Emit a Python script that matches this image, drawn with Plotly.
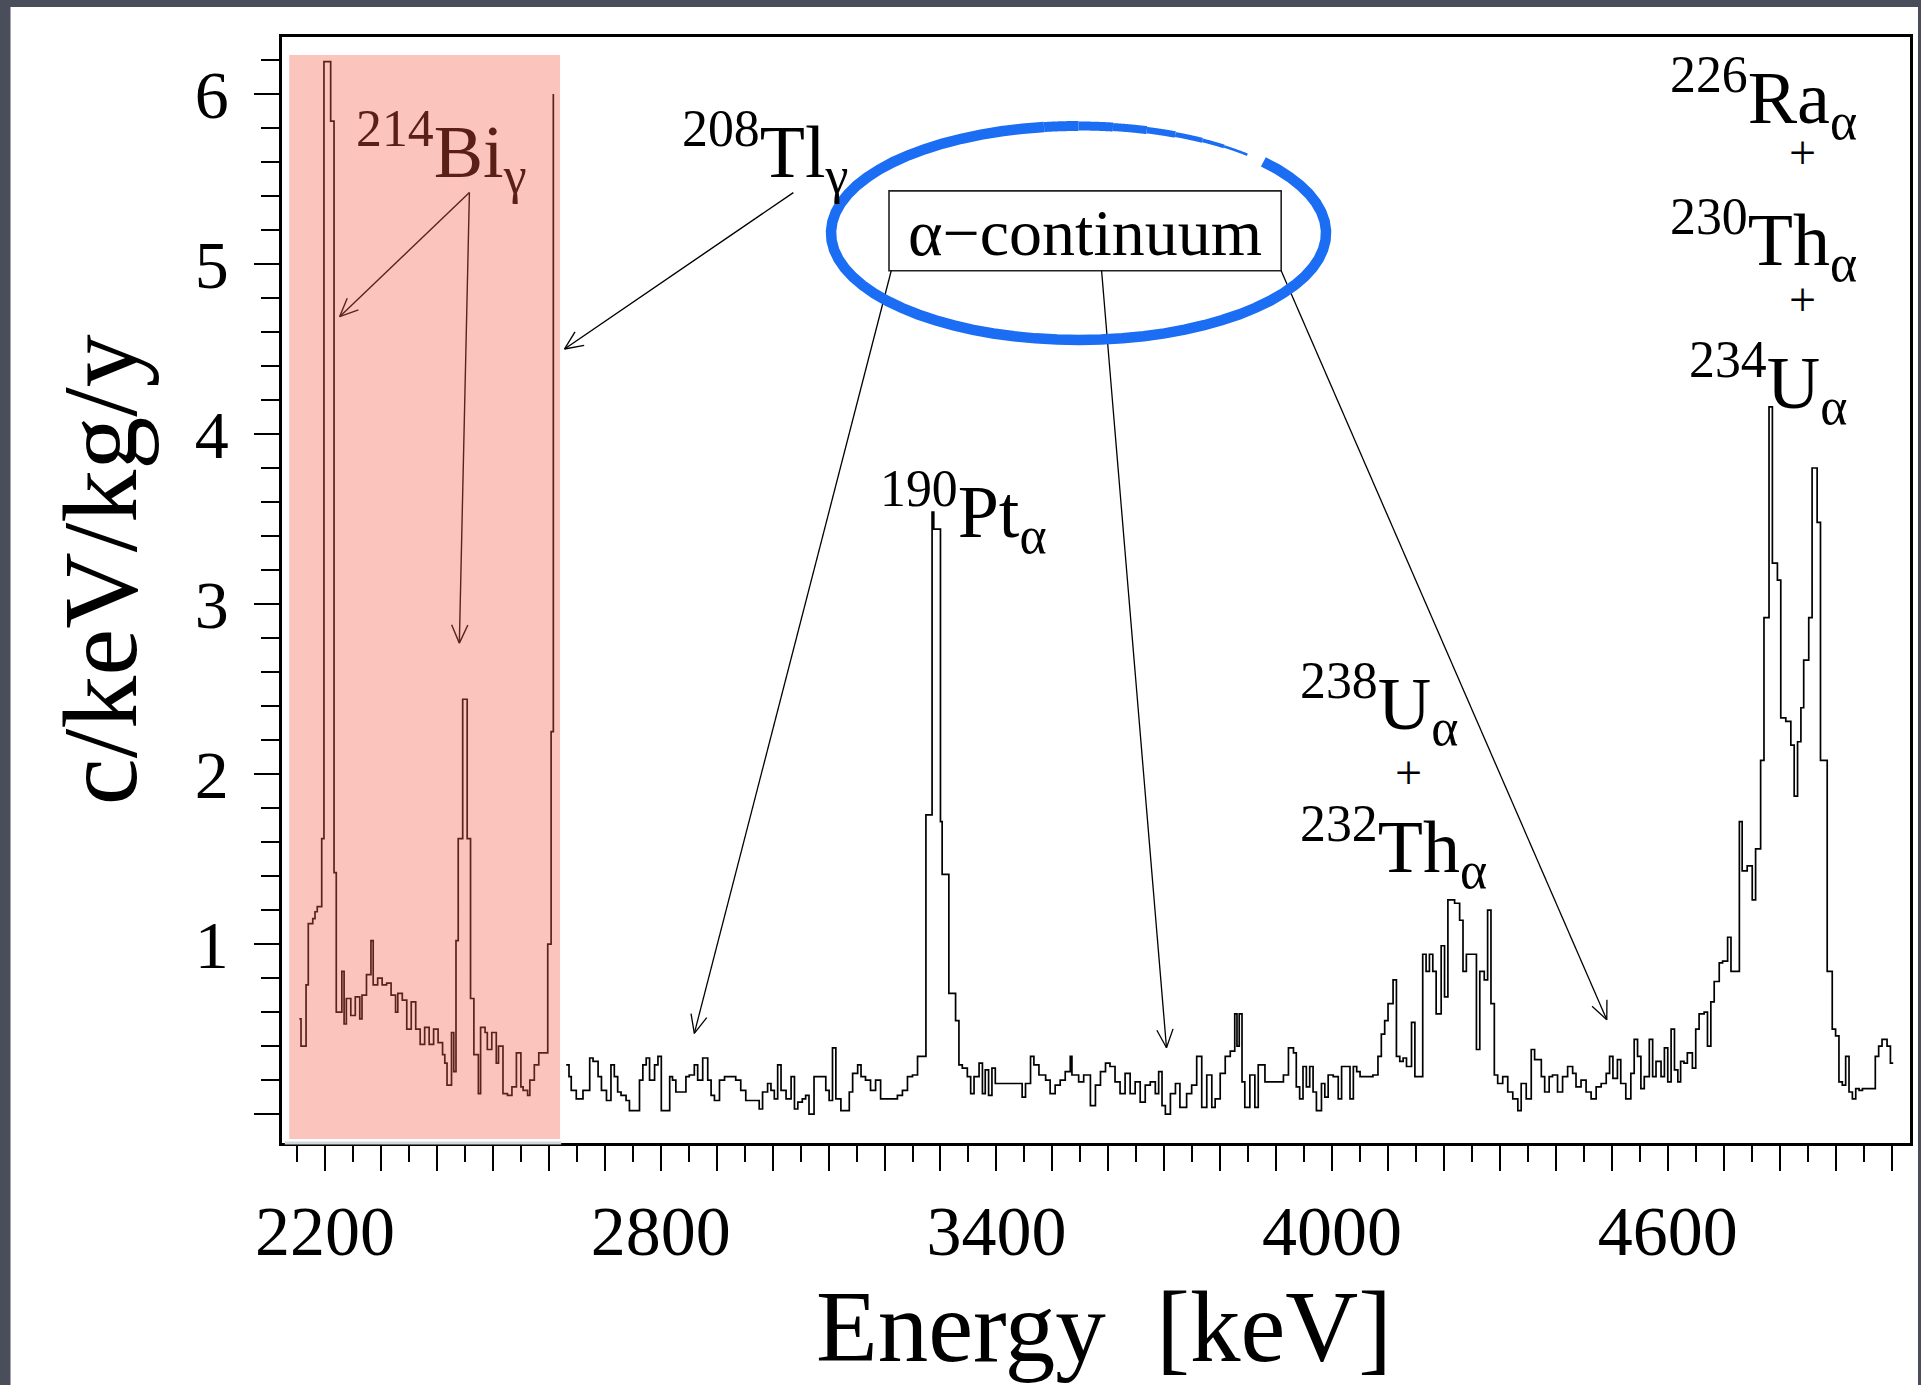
import math
import plotly.graph_objects as go

# ---------------------------------------------------------------------------
# Measured spectrum, drawn as a step histogram.
# Each pair is (left edge of the step in keV, rate in c/keV/kg/y).
# ---------------------------------------------------------------------------
gamma_steps = [
    (2154, 0.56), (2157, 0.40), (2166, 0.76), (2170, 1.12), (2178, 1.15),
    (2182, 1.19), (2186, 1.22), (2194, 1.62), (2198, 6.19), (2210, 5.84),
    (2216, 1.42), (2220, 0.60), (2230, 0.84), (2234, 0.53), (2238, 0.68),
    (2246, 0.58), (2254, 0.69), (2262, 0.56), (2266, 0.70), (2274, 0.82),
    (2282, 1.02), (2286, 0.76), (2294, 0.80), (2302, 0.76), (2310, 0.77),
    (2318, 0.70), (2326, 0.60), (2330, 0.71), (2338, 0.67), (2346, 0.50),
    (2354, 0.66), (2362, 0.50), (2370, 0.41), (2378, 0.51), (2386, 0.41),
    (2394, 0.50), (2402, 0.42), (2410, 0.35), (2414, 0.30), (2418, 0.17),
    (2426, 0.48), (2430, 0.25), (2434, 1.02), (2438, 1.62), (2446, 2.44),
    (2454, 1.62), (2460, 0.68), (2466, 0.35), (2474, 0.12), (2478, 0.51),
    (2486, 0.48), (2490, 0.38), (2498, 0.48), (2506, 0.30), (2510, 0.40),
    (2518, 0.12), (2526, 0.11), (2534, 0.16), (2542, 0.36), (2550, 0.16),
    (2554, 0.14), (2562, 0.11), (2566, 0.20), (2574, 0.29), (2582, 0.36),
    (2590, 0.36), (2598, 1.00), (2604, 2.25), (2608, 6.00),
]

alpha_steps = [
    (2631, 0.29), (2636, 0.22), (2640, 0.14), (2649, 0.09), (2661, 0.14),
    (2673, 0.33), (2679, 0.31), (2688, 0.22), (2694, 0.14), (2703, 0.08),
    (2711, 0.29), (2717, 0.22), (2723, 0.13), (2729, 0.11), (2738, 0.08),
    (2744, 0.02), (2762, 0.20), (2768, 0.29), (2774, 0.33), (2780, 0.20),
    (2789, 0.29), (2795, 0.34), (2801, 0.02), (2816, 0.22), (2821, 0.20),
    (2827, 0.13), (2845, 0.22), (2851, 0.23), (2860, 0.29), (2866, 0.20),
    (2875, 0.33), (2884, 0.20), (2890, 0.11), (2896, 0.08), (2905, 0.20),
    (2914, 0.22), (2934, 0.20), (2943, 0.14), (2952, 0.08), (2976, 0.03),
    (2982, 0.13), (2991, 0.18), (2997, 0.14), (3003, 0.09), (3009, 0.29),
    (3015, 0.14), (3024, 0.09), (3033, 0.22), (3039, 0.03), (3045, 0.07),
    (3053, 0.09), (3059, 0.11), (3065, 0.00), (3074, 0.22), (3095, 0.14),
    (3101, 0.08), (3107, 0.39), (3113, 0.09), (3122, 0.02), (3137, 0.13),
    (3143, 0.24), (3152, 0.29), (3158, 0.22), (3166, 0.20), (3175, 0.14),
    (3184, 0.20), (3193, 0.09), (3223, 0.11), (3232, 0.14), (3241, 0.22),
    (3250, 0.23), (3259, 0.34), (3274, 1.76), (3285, 3.54), (3288, 3.44),
    (3300, 1.72), (3303, 1.41), (3315, 0.71), (3327, 0.55), (3333, 0.29),
    (3339, 0.27), (3348, 0.22), (3354, 0.12), (3360, 0.22), (3369, 0.30),
    (3375, 0.12), (3380, 0.26), (3386, 0.11), (3392, 0.27), (3398, 0.18),
    (3446, 0.10), (3452, 0.18), (3461, 0.34), (3467, 0.29), (3476, 0.23),
    (3488, 0.20), (3496, 0.12), (3505, 0.17), (3514, 0.20), (3523, 0.25),
    (3532, 0.34), (3535, 0.23), (3547, 0.19), (3556, 0.23), (3568, 0.05),
    (3577, 0.17), (3586, 0.25), (3595, 0.30), (3603, 0.28), (3612, 0.19),
    (3621, 0.12), (3630, 0.24), (3639, 0.12), (3648, 0.19), (3657, 0.07),
    (3666, 0.17), (3675, 0.19), (3684, 0.12), (3690, 0.25), (3696, 0.05),
    (3702, 0.00), (3711, 0.12), (3720, 0.18), (3728, 0.04), (3740, 0.12),
    (3749, 0.17), (3758, 0.34), (3767, 0.04), (3776, 0.23), (3785, 0.04),
    (3791, 0.09), (3800, 0.24), (3809, 0.34), (3818, 0.37), (3826, 0.59),
    (3830, 0.40), (3834, 0.59), (3839, 0.19), (3844, 0.04), (3853, 0.23),
    (3862, 0.04), (3868, 0.29), (3880, 0.19), (3913, 0.23), (3922, 0.39),
    (3931, 0.36), (3936, 0.16), (3942, 0.09), (3948, 0.28), (3954, 0.16),
    (3960, 0.28), (3966, 0.13), (3972, 0.02), (3981, 0.18), (3987, 0.10),
    (3993, 0.23), (4002, 0.22), (4011, 0.09), (4017, 0.28), (4032, 0.09),
    (4038, 0.28), (4044, 0.25), (4050, 0.22), (4073, 0.23), (4082, 0.34),
    (4088, 0.47), (4094, 0.55), (4100, 0.65), (4109, 0.79), (4115, 0.34),
    (4121, 0.31), (4127, 0.33), (4133, 0.28), (4142, 0.54), (4148, 0.22),
    (4162, 0.94), (4168, 0.84), (4174, 0.94), (4180, 0.84), (4186, 0.59),
    (4195, 0.99), (4201, 0.69), (4207, 1.26), (4219, 1.24), (4228, 1.14),
    (4234, 0.84), (4240, 0.94), (4258, 0.38), (4264, 0.84), (4272, 0.79),
    (4278, 1.20), (4284, 0.65), (4290, 0.23), (4296, 0.18), (4305, 0.22),
    (4314, 0.13), (4323, 0.09), (4332, 0.02), (4338, 0.18), (4347, 0.09),
    (4356, 0.38), (4362, 0.32), (4374, 0.22), (4380, 0.13), (4388, 0.22),
    (4394, 0.23), (4403, 0.13), (4412, 0.22), (4421, 0.28), (4430, 0.24),
    (4436, 0.16), (4445, 0.20), (4454, 0.13), (4463, 0.09), (4472, 0.16),
    (4481, 0.18), (4490, 0.24), (4496, 0.34), (4502, 0.21), (4510, 0.32),
    (4516, 0.18), (4525, 0.09), (4534, 0.24), (4540, 0.44), (4546, 0.34),
    (4552, 0.15), (4558, 0.22), (4567, 0.44), (4573, 0.22), (4579, 0.31),
    (4588, 0.22), (4594, 0.39), (4600, 0.19), (4606, 0.50), (4612, 0.26),
    (4618, 0.19), (4623, 0.31), (4629, 0.30), (4635, 0.36), (4644, 0.27),
    (4650, 0.50), (4656, 0.59), (4665, 0.60), (4671, 0.40), (4677, 0.66),
    (4683, 0.78), (4692, 0.89), (4698, 0.90), (4707, 1.04), (4713, 0.84),
    (4728, 1.72), (4733, 1.43), (4742, 1.46), (4751, 1.26), (4757, 1.56),
    (4766, 2.08), (4772, 2.92), (4781, 4.16), (4787, 3.24), (4796, 3.14),
    (4802, 2.33), (4811, 2.31), (4820, 2.17), (4826, 1.87), (4832, 2.19),
    (4838, 2.39), (4843, 2.67), (4852, 2.92), (4858, 3.80), (4867, 3.48),
    (4873, 2.08), (4885, 0.84), (4894, 0.50), (4900, 0.46), (4906, 0.19),
    (4912, 0.17), (4918, 0.34), (4924, 0.13), (4930, 0.09), (4936, 0.15),
    (4942, 0.14), (4948, 0.15), (4971, 0.34), (4977, 0.40), (4983, 0.44),
    (4992, 0.40), (4998, 0.30),
]
spectrum_end_keV = 5003

x_tick_labels = [2200, 2800, 3400, 4000, 4600]
y_tick_labels = [1, 2, 3, 4, 5, 6]

x_range = [2123, 5033]
y_range = [-0.17, 6.335]

# ---------------------------------------------------------------------------
# Page geometry (pixels)
# ---------------------------------------------------------------------------
W, H = 1921, 1385
ML, MR, MT, MB = 282, 8, 37, 242
PW, PH = W - ML - MR, H - MT - MB

SERIF = "Liberation Serif"
MAROON = "#5a2018"
BLUE = "#1b6ef3"
LABEL_SIZE = 74
PLUS_SIZE = 48


def d2px(x, y):
    px = ML + (x - x_range[0]) / (x_range[1] - x_range[0]) * PW
    py = MT + (y_range[1] - y) / (y_range[1] - y_range[0]) * PH
    return px, py


def px2paper(px, py):
    return (px - ML) / PW, (MT + PH - py) / PH


# ---------------------------------------------------------------------------
# Spectrum trace
# ---------------------------------------------------------------------------
xs = [e for e, _ in gamma_steps] + [None] + [e for e, _ in alpha_steps] + [spectrum_end_keV]
ys = [v for _, v in gamma_steps] + [None] + [v for _, v in alpha_steps] + [alpha_steps[-1][1]]

fig = go.Figure()
fig.add_trace(go.Scatter(
    x=xs, y=ys, mode="lines",
    line=dict(color="black", width=1.7, shape="hv"),
    connectgaps=False, hoverinfo="skip", showlegend=False,
))

shapes = []

# white slide panel
x0, y0 = px2paper(10, H)
x1, y1 = px2paper(W, 7)
shapes.append(dict(type="rect", xref="paper", yref="paper", x0=x0, x1=x1, y0=y0, y1=y1,
                   fillcolor="white", line=dict(width=0), layer="below"))


def arrow(tail, head, color="black", width=1.4, head_len=20, half_angle=24):
    tx, ty = d2px(*tail)
    hx, hy = d2px(*head)
    out = []
    a, b = px2paper(tx, ty)
    c, d = px2paper(hx, hy)
    out.append(dict(type="line", xref="paper", yref="paper", x0=a, y0=b, x1=c, y1=d,
                    line=dict(color=color, width=width), layer="above"))
    ang = math.atan2(ty - hy, tx - hx)
    for s in (1, -1):
        t = ang + s * math.radians(half_angle)
        ex, ey = hx + head_len * math.cos(t), hy + head_len * math.sin(t)
        e, f = px2paper(ex, ey)
        out.append(dict(type="line", xref="paper", yref="paper", x0=c, y0=d, x1=e, y1=f,
                        line=dict(color=color, width=width), layer="above"))
    return out


# 214Bi arrows (tinted by the shaded gamma region drawn over them)
bi_tail = (2458, 5.42)
shapes += arrow(bi_tail, (2226, 4.69))
shapes += arrow(bi_tail, (2440, 2.77))

# shaded gamma region
shapes.append(dict(type="rect", xref="x", yref="paper", x0=2136, x1=2620,
                   y0=px2paper(0, 1139)[1], y1=px2paper(0, 55)[1],
                   fillcolor="rgb(243,95,74)", opacity=0.37, line=dict(width=0), layer="above"))
# faded frame line below the shaded block
shapes.append(dict(type="line", xref="x", yref="paper", x0=2128, x1=2622, y0=0, y1=0,
                   line=dict(color="#d6d6d6", width=3), layer="above"))

# 208Tl arrow
shapes += arrow((3037, 5.42), (2628, 4.50))

# alpha-continuum box and its arrows
box_x = (3208, 3909)
box_y = (4.96, 5.43)
shapes.append(dict(type="rect", xref="x", yref="y", x0=box_x[0], x1=box_x[1], y0=box_y[0], y1=box_y[1],
                   fillcolor="white", line=dict(color="#222222", width=1.6), layer="above"))
shapes += arrow((box_x[0] + 4, box_y[0]), (2860, 0.475), width=1.3)
shapes += arrow((3588, box_y[0]), (3704, 0.39), width=1.3)
shapes += arrow((box_x[1], box_y[0]), (4491, 0.555), width=1.3)

# hand-drawn highlight ellipse around the continuum box
cx, cy, rx, ry = 1080, 233, 248, 107


def ellipse_path(t_start, t_end, n=60):
    pts = []
    for i in range(n + 1):
        t = math.radians(t_start + (t_end - t_start) * i / n)
        px, py = cx + rx * math.cos(t), cy - ry * math.sin(t)
        pts.append(px2paper(px, py))
    return "M " + " L ".join(f"{a:.5f},{b:.5f}" for a, b in pts)


# stroke runs clockwise from the right, thinning out at its end near the top
segments = [(41.7, -262, 10.5)]
taper = [(-262, -270, 10), (-270, -278, 9), (-278, -286, 8), (-286, -293, 6.5),
         (-293, -300, 5), (-300, -306, 3.8), (-306, -313, 2.6)]
segments += taper
for (ts, te, w) in segments:
    shapes.append(dict(type="path", xref="paper", yref="paper", path=ellipse_path(ts, te),
                       line=dict(color=BLUE, width=w), layer="above"))

# ---------------------------------------------------------------------------
# Text labels (pixel anchor positions)
# ---------------------------------------------------------------------------
labels = [
    ("<sup>214</sup>Bi<sub>γ</sub>", 355, 152, "left", MAROON, LABEL_SIZE),
    ("<sup>208</sup>Tl<sub>γ</sub>", 682, 152, "left", "black", LABEL_SIZE),
    ("<sup>190</sup>Pt<sub>α</sub>", 880, 512, "left", "black", LABEL_SIZE),
    ("<sup>238</sup>U<sub>α</sub>", 1301, 704, "left", "black", LABEL_SIZE),
    ("+", 1411, 772, "center", "black", PLUS_SIZE),
    ("<sup>232</sup>Th<sub>α</sub>", 1301, 847, "left", "black", LABEL_SIZE),
    ("<sup>226</sup>Ra<sub>α</sub>", 1672, 98, "left", "black", LABEL_SIZE),
    ("+", 1805, 152, "center", "black", PLUS_SIZE),
    ("<sup>230</sup>Th<sub>α</sub>", 1672, 240, "left", "black", LABEL_SIZE),
    ("+", 1805, 299, "center", "black", PLUS_SIZE),
    ("<sup>234</sup>U<sub>α</sub>", 1691, 383, "left", "black", LABEL_SIZE),
    ("α−continuum", 1086, 232, "center", "black", 66),
]

annotations = []
for text, px, py, anchor, color, size in labels:
    a, b = px2paper(px, py)
    annotations.append(dict(text=text, x=a, y=b, xref="paper", yref="paper", showarrow=False,
                            xanchor=anchor, yanchor="middle", borderpad=0,
                            font=dict(family=SERIF, size=size, color=color)))

# axis titles
a, b = px2paper(100, 570)
annotations.append(dict(text="c/keV/kg/y", x=a, y=b, xref="paper", yref="paper", showarrow=False,
                        textangle=-90, xanchor="center", yanchor="middle",
                        font=dict(family=SERIF, size=106, color="black")))
a, b = px2paper(1106, 1327)
annotations.append(dict(text="Energy\u00a0 [keV]", x=a, y=b, xref="paper", yref="paper", showarrow=False,
                        xanchor="center", yanchor="middle",
                        font=dict(family=SERIF, size=101, color="black")))

x_major = list(range(2200, 5001, 100))
y_major = list(range(0, 7))

fig.update_layout(
    width=W, height=H,
    margin=dict(l=ML, r=MR, t=MT, b=MB, pad=0),
    paper_bgcolor="#4a4d5a",
    plot_bgcolor="white",
    shapes=shapes,
    annotations=annotations,
    showlegend=False,
    xaxis=dict(
        range=x_range, showgrid=False, zeroline=False,
        showline=True, linecolor="black", linewidth=2.5, mirror=True,
        ticks="outside", ticklen=25, tickwidth=1.6, tickcolor="black",
        tickmode="array", tickvals=x_major,
        ticktext=[str(v) if v in x_tick_labels else "" for v in x_major],
        tickfont=dict(family=SERIF, size=70, color="black"),
        minor=dict(tickmode="linear", tick0=2150, dtick=50, ticks="outside",
                   ticklen=16, tickwidth=1.6, tickcolor="black", showgrid=False),
    ),
    yaxis=dict(
        range=y_range, showgrid=False, zeroline=False,
        showline=True, linecolor="black", linewidth=2.5, mirror=True,
        ticks="outside", ticklen=25, tickwidth=1.6, tickcolor="black",
        tickmode="array", tickvals=y_major,
        ticktext=[str(v) if v in y_tick_labels else "" for v in y_major],
        tickfont=dict(family=SERIF, size=68, color="black"),
        ticklabelstandoff=12,
        minor=dict(tickmode="linear", tick0=0, dtick=0.2, ticks="outside",
                   ticklen=18, tickwidth=1.6, tickcolor="black", showgrid=False),
    ),
)

fig.write_html("out.html")
